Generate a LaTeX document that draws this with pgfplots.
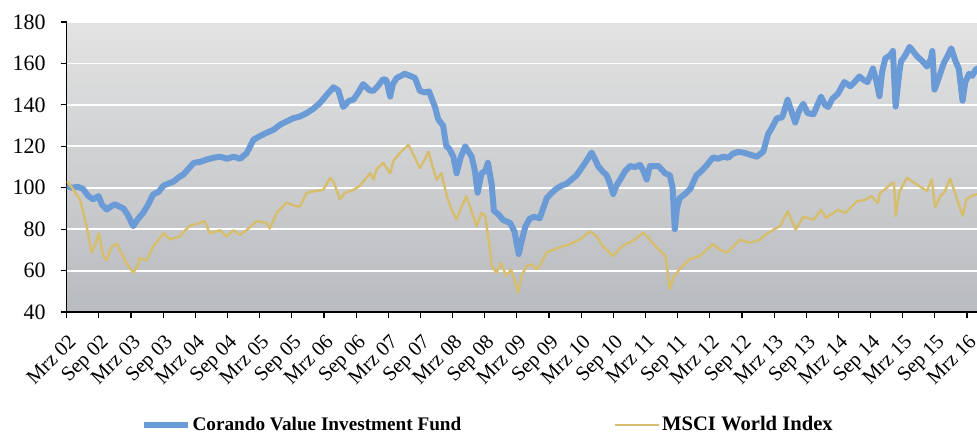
\documentclass[border=0pt]{standalone}
\usepackage{fontspec}
\setmainfont{Liberation Serif}
\usepackage{pgfplots}
\pgfplotsset{compat=1.18}
\definecolor{fundblue}{RGB}{107,155,215}
\definecolor{mscigold}{RGB}{214,190,108}
\definecolor{bgtop}{RGB}{227,227,227}
\definecolor{bgbot}{RGB}{184,187,191}
\begin{document}
\begin{tikzpicture}
\begin{axis}[
  scale only axis, width=455pt, height=145pt,
  xmin=0, xmax=168.57, ymin=40, ymax=180,
  axis x line*=bottom, axis y line*=left,
  axis line style={black, line width=0.6pt, -},
  xtick={0,5.9545,...,167},
  xticklabels={Mrz 02,Sep 02,Mrz 03,Sep 03,Mrz 04,Sep 04,Mrz 05,Sep 05,Mrz 06,Sep 06,Mrz 07,Sep 07,Mrz 08,Sep 08,Mrz 09,Sep 09,Mrz 10,Sep 10,Mrz 11,Sep 11,Mrz 12,Sep 12,Mrz 13,Sep 13,Mrz 14,Sep 14,Mrz 15,Sep 15,Mrz 16},
  ytick={40,60,...,180},
  tick align=outside, major tick length=3pt,
  tick style={black, line width=0.6pt},
  ymajorgrids, grid style={white, line width=0.9pt},
  axis background/.style={top color=bgtop, bottom color=bgbot},
  /pgf/number format/assume math mode=true,
  xticklabel style={xshift=0.3pt, yshift=-6.5pt, rotate=45, anchor=north east, inner sep=0.5pt, font=\fontsize{10.3}{12}\selectfont},
  yticklabel style={font=\fontsize{11}{12}\selectfont, xshift=-4pt},
  legend columns=2,
  legend style={at={(0.0807,-0.39)}, anchor=west, draw=none, fill=none, inner sep=0pt,
    nodes={inner sep=0pt, font=\fontsize{9.6}{12}\selectfont\bfseries}, /tikz/column sep=1pt},
  legend image code/.code={\draw[#1] (0pt,0pt) -- (22pt,0pt);},
  clip=true,
]
\addplot[fundblue, line width=3pt, line join=round] coordinates {
(0,100.8)(1,100)(2,100.5)(3,99.5)(4,96)(4.9,94.4)(5.9,96)(6.5,92)(7.4,89.5)(8.2,91)(8.9,92)(9.7,91)(10.5,90)(11.3,87)(12.3,81.5)(13.2,85)(14.2,88)(15.1,92)(16,96.8)(17,98)(17.9,101)(18.8,102)(19.8,103)(20.7,105)(21.6,106.4)(22.5,109)(23.5,112)(24.7,112.5)(25.9,113.6)(27.2,114.5)(28.4,115)(29.7,114)(30.9,115)(32.1,114)(33.3,116.6)(34.6,123.2)(35.8,125)(37,126.5)(38.3,128)(39.5,130.4)(40.7,132)(41.9,133.5)(43.2,134.4)(44.4,136)(45.6,138)(46.9,140.9)(48.2,145)(49.4,148.5)(50.3,147)(51.2,139)(52.3,142)(53.1,142.6)(54,146)(54.9,150)(56.1,147)(56.8,146.8)(57.6,149)(58.6,152.4)(59.2,152)(59.9,144)(60.4,150)(61.1,153)(61.9,154)(62.6,155)(63.6,154)(64.5,153)(65.4,146.8)(66.3,146)(67.1,146.5)(68.2,139)(68.8,133)(69.7,130)(70.3,120)(70.8,119)(71.6,115)(72.2,107)(73,115)(73.8,120)(75,115)(75.6,108)(76.1,97.6)(76.8,107)(77.5,108)(78,112)(78.7,101.5)(79.1,89)(80,87)(80.8,84.5)(82.1,83)(82.9,79)(83.7,68)(84.4,76)(84.9,81)(85.7,85)(86.5,86)(87.6,85.3)(88.9,95)(89.8,97.5)(90.7,99.6)(91.6,101)(92.6,102)(93.5,104)(94.4,106)(95.2,109)(96,112)(97.2,117)(97.8,114)(98.4,110.5)(99.2,108)(100,106)(100.6,102)(101.2,97)(101.8,101)(102.5,104)(103.4,108)(104.3,110.5)(105.2,110)(106.2,111)(106.8,108)(107.4,104)(108,110.5)(109.6,110.5)(110.8,107)(111.7,106)(112.2,100)(112.6,80)(113,90)(113.5,95)(114.5,97)(115.5,99.6)(116.6,106)(117.5,108)(118.4,110.5)(119.7,114.7)(120.6,114)(121.6,115)(122.5,114.5)(123.4,116.5)(124.3,117.3)(125.3,117)(126.5,116)(127.8,115)(129,117.5)(129.9,126)(130.6,129)(131.5,133.5)(132.5,134)(133.5,142.5)(134.2,137)(134.9,131.5)(135.6,137)(136.4,140.5)(137.2,136)(138.3,135.5)(139.7,144)(140.4,140)(141,139)(141.8,143)(142.8,145.3)(144,151)(145.1,149)(145.9,151)(146.8,153.7)(147.6,152)(148.3,151)(149.3,157.5)(149.9,152)(150.5,144.2)(151,156)(151.6,162.5)(152.5,164)(153,166)(153.5,139.2)(154.2,156)(154.5,161)(155.3,164)(156.1,168)(157.5,163.4)(158.5,161)(159.3,158.5)(160,162)(160.3,166)(160.7,147.4)(161.5,153)(162.4,160)(163.2,164)(163.8,167.3)(164.6,161)(165.2,157.5)(165.9,142)(166.4,151)(167.1,155)(167.7,154)(168.3,157)(169,158)
};
\addlegendentry{\makebox[209.5pt][l]{Corando Value Investment Fund}}
\addplot[mscigold, line width=1.2pt, line join=round] coordinates {
(0,103.2)(1,100)(2,96)(2.5,94)(3.7,81.5)(4.6,68.7)(5.5,74)(5.9,78)(6.8,67)(7.4,65)(8.3,71.5)(9.3,73)(10.2,68)(11.1,63.5)(12.3,59)(13.1,62)(13.5,66)(14.8,65)(16,71.5)(17.9,78)(19.1,75)(20.9,76.5)(22.7,81.5)(24.6,83)(25.5,84)(26.5,78)(28.4,79.5)(29.6,76.5)(30.9,79.5)(32.1,77.3)(33.3,79.5)(35.2,84)(37,83)(37.6,80.3)(38.9,87.9)(40.7,92.8)(42.6,91)(43.2,91)(44.4,97.5)(45.7,98.3)(47.5,99)(48.8,104.7)(49.4,103)(50.6,94.4)(51.5,97.5)(53.1,99)(54.3,101)(56.2,107.1)(56.8,104)(57.4,109)(58.6,112)(59.9,107)(60.5,113)(61.7,116.8)(63.3,120.7)(64.2,116)(65.4,109.5)(66.3,113.6)(67,117.5)(67.7,110.5)(68.5,103.9)(69.4,107)(70.4,95.9)(71.2,90)(72.2,84.7)(73,90)(74,95.9)(74.8,90)(75.9,81.5)(76.8,87.9)(77.5,86.4)(78.4,70)(78.7,62.3)(79.6,59)(80.4,63.7)(81.4,57.5)(82.3,60.7)(83.6,49.5)(84.3,58)(85.2,62.3)(86,63)(87,60.7)(87.6,62.3)(88.9,68.8)(90,70)(91.3,71.2)(93.2,72.8)(95,75)(96.9,79)(98.1,76.6)(99.2,72)(101.2,67)(102,69.5)(103,72)(104.9,74.4)(106.8,78.4)(108,75)(109,72)(110.9,67)(111.7,51)(112.4,57)(113.5,60.7)(115.4,65.6)(117.2,67)(119.7,72.8)(121,70)(122.3,68.7)(124.7,75)(126.5,73.4)(128.5,75)(129,76.6)(130.9,79.8)(132.1,81.4)(133.5,88.6)(135,79.8)(136.4,86)(138.3,84.6)(139.7,89.4)(140.6,85.4)(142.8,89.4)(144.2,87.8)(146.3,93.4)(147.9,94.2)(149,96)(150.2,92.7)(150.6,97.4)(151.6,99.4)(152.8,102.2)(153.2,102.5)(153.5,86.4)(154.2,98)(155.6,104.8)(157.5,101.4)(159.3,98.5)(160.2,104)(160.8,90.5)(161.8,96)(162.5,97.7)(163.6,104.5)(164.9,94.2)(165.9,86.5)(166.6,94.4)(167.5,96)(168.7,97)(169,97)
};
\addlegendentry{\fontsize{10.3}{12}\selectfont MSCI World Index}
\end{axis}
\pgfresetboundingbox
\path[use as bounding box] (-33.35pt,-61pt) rectangle (455pt,156pt);
\end{tikzpicture}
\end{document}
